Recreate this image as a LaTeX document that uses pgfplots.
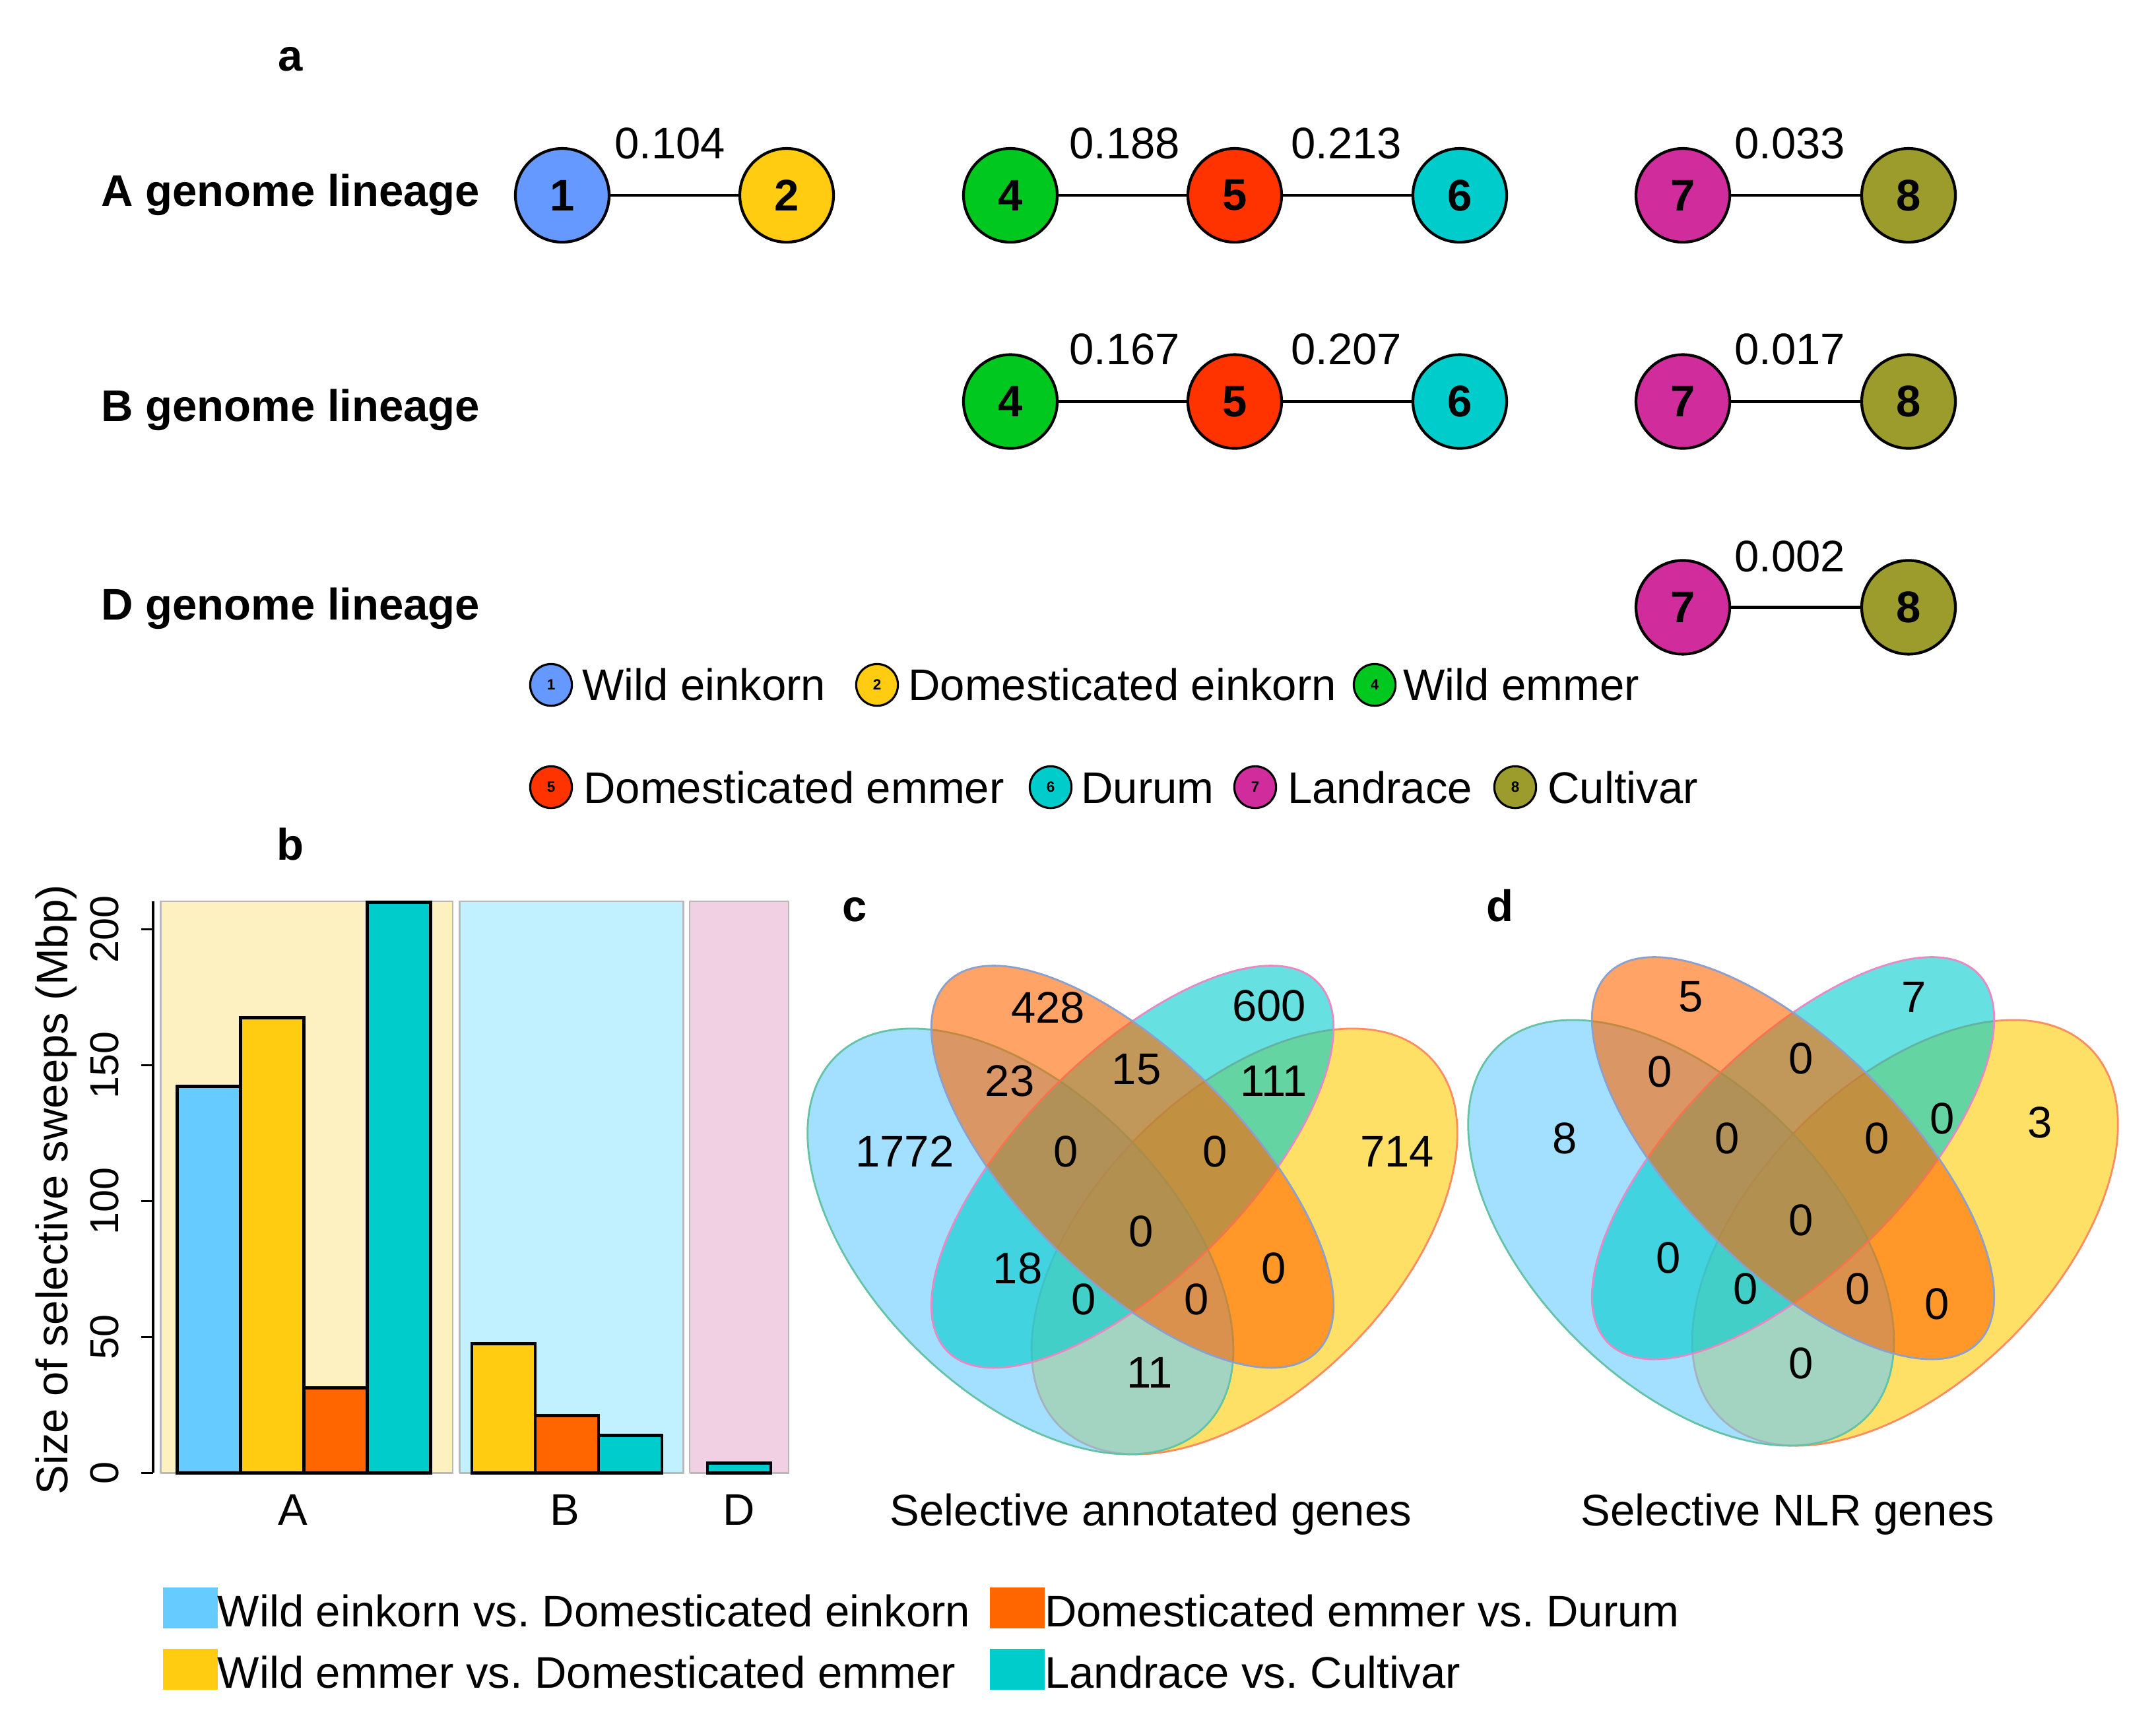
\documentclass[border=0pt]{standalone}
\usepackage{fontspec}
\setmainfont{Liberation Sans}
\usepackage{pgfplots}
\pgfplotsset{compat=1.18}

\definecolor{nc1}{HTML}{6699FF}
\definecolor{nc2}{HTML}{FFCC11}
\definecolor{nc4}{HTML}{00C81E}
\definecolor{nc5}{HTML}{FF3300}
\definecolor{nc6}{HTML}{00CCCC}
\definecolor{nc7}{HTML}{D02C9C}
\definecolor{nc8}{HTML}{9C9C2C}
\definecolor{bblue}{HTML}{66CCFF}
\definecolor{byel}{HTML}{FFCC11}
\definecolor{bora}{HTML}{FF6600}
\definecolor{bteal}{HTML}{00CCCC}
\definecolor{bgA}{HTML}{FDF0C1}
\definecolor{bgB}{HTML}{C1F0FF}
\definecolor{bgD}{HTML}{F0D0E2}
\definecolor{vblue}{HTML}{66CCFF}
\definecolor{vyel}{HTML}{FFCC00}
\definecolor{vora}{HTML}{FF6600}
\definecolor{vcyan}{HTML}{00CCCC}
\definecolor{eblue}{HTML}{66C2A5}
\definecolor{eyel}{HTML}{FC8D62}
\definecolor{eora}{HTML}{8DA0CB}
\definecolor{ecyan}{HTML}{E78AC3}

\newcommand{\fs}{\fontsize{9.54}{11}\selectfont}
\newcommand{\tfs}{\fontsize{8.7}{10}\selectfont}
\newcommand{\tinyfs}{\fontsize{3.2}{3.2}\selectfont}

\newcommand{\venn}[2]{%
\begin{scope}[shift={(#1,#2)}, scale=5.6575]
 \filldraw[fill=vyel, fill opacity=0.6, draw=eyel, line width=0.4pt, rotate around={45:(0.65,0.47)}] (0.65,0.47) ellipse (0.35 and 0.2);
 \filldraw[fill=vblue, fill opacity=0.6, draw=eblue, line width=0.4pt, rotate around={-45:(0.35,0.47)}] (0.35,0.47) ellipse (0.35 and 0.2);
 \filldraw[fill=vcyan, fill opacity=0.6, draw=ecyan, line width=0.4pt, rotate around={45:(0.5,0.57)}] (0.5,0.57) ellipse (0.35 and 0.15);
 \filldraw[fill=vora, fill opacity=0.6, draw=eora, line width=0.4pt, rotate around={-45:(0.5,0.57)}] (0.5,0.57) ellipse (0.35 and 0.15);
\end{scope}}

\pgfplotsset{
  legsq/.style={legend image code/.code={\fill[#1] (0cm,-0.12cm) rectangle (0.39cm,0.165cm);}},
  bignode/.style={only marks, mark=*, mark size=10.1pt, mark options={fill=#1, draw=black, line width=0.6pt}},
  smallnode/.style={only marks, mark=*, mark size=4.5pt, mark options={fill=#1, draw=black, line width=0.45pt}},
  edge/.style={black, line width=0.6pt},
  txt/.style={only marks, mark=none, nodes near coords, point meta=explicit symbolic,
    every node near coord/.style={anchor=center, inner sep=0pt, text=black, font=#1}},
}

\begin{document}
\frenchspacing
\fs
\begin{tikzpicture}[every node/.append style={inner sep=0pt}]
\useasboundingbox (0,0) rectangle (16.335cm,13.09cm);

\venn{5.75125cm}{1.0235cm}
\venn{10.75625cm}{1.0885cm}

% ---------------- panel b: bar chart ----------------
\begin{axis}[
  at={(1.1595cm,1.928cm)}, anchor=south west, scale only axis,
  width=4.8405cm, height=4.332cm,
  xmin=231.9, xmax=1200, ymin=0, ymax=210.3,
  axis lines*=left,
  x axis line style={draw=none},
  y axis line style={line width=0.5pt},
  clip=false,
  tick align=outside, major tick length=0.09cm,
  ytick={0,50,100,150,200},
  ytick style={black, line width=0.5pt},
  yticklabel style={rotate=90, anchor=south, inner sep=0pt, font=\tfs},
  yticklabel shift=0.16cm,
  xtick={444,856,1120}, xticklabels={A,B,D},
  xtick style={draw=none},
  xticklabel style={anchor=base, inner sep=0pt, font=\fs, yshift=-0.303cm},
  /pgf/number format/assume math mode=true,
  legend columns=2, transpose legend,
  legend cell align=left,
  legend style={at={(axis cs:247,-42.1)}, anchor=north west, draw=none, fill=none,
    inner sep=0pt, outer sep=0pt, row sep=0.155cm, column sep=0pt, font=\fs,
    nodes={inner sep=0pt, text height=0.24cm, text depth=0pt},
    /tikz/every even column/.append style={column sep=0.15cm}},
]
\addplot[fill=bgA, draw=gray!55, line width=0.4pt, forget plot] coordinates {(243.4,0) (243.4,210.3) (686,210.3) (686,0) (243.4,0)};
\addplot[fill=bgB, draw=gray!55, line width=0.4pt, forget plot] coordinates {(696.2,0) (696.2,210.3) (1035.5,210.3) (1035.5,0) (696.2,0)};
\addplot[fill=bgD, draw=gray!55, line width=0.4pt, forget plot] coordinates {(1045,0) (1045,210.3) (1195,210.3) (1195,0) (1045,0)};

\addplot[ybar, bar width=96, bar shift=0pt, fill=bblue, draw=black, line width=0.7pt, legsq=bblue] coordinates {(316.5,142.3)};
\addlegendentry{Wild einkorn vs. Domesticated einkorn}
\addplot[ybar, bar width=96, bar shift=0pt, fill=byel, draw=black, line width=0.7pt, legsq=byel] coordinates {(412.5,167.5) (763,47.5)};
\addlegendentry{Wild emmer vs. Domesticated emmer}
\addplot[ybar, bar width=96, bar shift=0pt, fill=bora, draw=black, line width=0.7pt, legsq=bora] coordinates {(508.5,31.3) (859,21.2)};
\addlegendentry{Domesticated emmer vs. Durum}
\addplot[ybar, bar width=96, bar shift=0pt, fill=bteal, draw=black, line width=0.7pt, legsq=bteal] coordinates {(604.5,210) (955,13.9) (1120,3.7)};
\addlegendentry{Landrace vs. Cultivar}

\node[rotate=90] at (axis cs:85,104.2) {Size of selective sweeps (Mbp)};
\end{axis}

% ---------------- canvas: panel a, labels, venn counts ----------------
\begin{axis}[
  at={(0,0)}, anchor=south west, scale only axis,
  width=16.335cm, height=13.09cm,
  xmin=0, xmax=3267, ymin=0, ymax=2618, y dir=reverse,
  hide axis, clip=false,
]
% edges
\addplot[edge] coordinates {(852,296) (1192,296)};
\addplot[edge] coordinates {(1531,296) (2212,296)};
\addplot[edge] coordinates {(2550,296) (2892,296)};
\addplot[edge] coordinates {(1531,608.5) (2212,608.5)};
\addplot[edge] coordinates {(2550,608.5) (2892,608.5)};
\addplot[edge] coordinates {(2550,920.4) (2892,920.4)};
% nodes
\addplot[bignode=nc1] coordinates {(852,296)};
\addplot[bignode=nc2] coordinates {(1192,296)};
\addplot[bignode=nc4] coordinates {(1531,296) (1531,608.5)};
\addplot[bignode=nc5] coordinates {(1871,296) (1871,608.5)};
\addplot[bignode=nc6] coordinates {(2212,296) (2212,608.5)};
\addplot[bignode=nc7] coordinates {(2550,296) (2550,608.5) (2550,920.4)};
\addplot[bignode=nc8] coordinates {(2892,296) (2892,608.5) (2892,920.4)};
% node digits
\addplot[txt=\bfseries] table[meta=t] {
x y t
852 296 1
1192 296 2
1531 296 4
1871 296 5
2212 296 6
2550 296 7
2892 296 8
1531 608.5 4
1871 608.5 5
2212 608.5 6
2550 608.5 7
2892 608.5 8
2550 920.4 7
2892 920.4 8
};
% edge weights
\node[anchor=base] at (axis cs:1015,240) {0.104};
\node[anchor=base] at (axis cs:1704,240) {0.188};
\node[anchor=base] at (axis cs:2040,240) {0.213};
\node[anchor=base] at (axis cs:2712,240) {0.033};
\node[anchor=base] at (axis cs:1704,552) {0.167};
\node[anchor=base] at (axis cs:2040,552) {0.207};
\node[anchor=base] at (axis cs:2712,552) {0.017};
\node[anchor=base] at (axis cs:2712,866) {0.002};
% row labels
\node[anchor=base west, font=\bfseries] at (axis cs:152,312) {A genome lineage};
\node[anchor=base west, font=\bfseries] at (axis cs:152,638) {B genome lineage};
\node[anchor=base west, font=\bfseries] at (axis cs:152,939) {D genome lineage};
% legend of panel a
\addplot[smallnode=nc1] coordinates {(835,1038)};
\addplot[smallnode=nc2] coordinates {(1329,1038)};
\addplot[smallnode=nc4] coordinates {(2083,1038)};
\addplot[smallnode=nc5] coordinates {(835,1193)};
\addplot[smallnode=nc6] coordinates {(1592,1193)};
\addplot[smallnode=nc7] coordinates {(1902,1193)};
\addplot[smallnode=nc8] coordinates {(2296,1193)};
\addplot[txt=\tinyfs\bfseries] table[meta=t] {
x y t
835 1038 1
1329 1038 2
2083 1038 4
835 1193 5
1592 1193 6
1902 1193 7
2296 1193 8
};
\node[anchor=base west] at (axis cs:881,1061) {Wild einkorn};
\node[anchor=base west] at (axis cs:1375,1061) {Domesticated einkorn};
\node[anchor=base west] at (axis cs:2125,1061) {Wild emmer};
\node[anchor=base west] at (axis cs:883,1217) {Domesticated emmer};
\node[anchor=base west] at (axis cs:1637,1217) {Durum};
\node[anchor=base west] at (axis cs:1950,1217) {Landrace};
\node[anchor=base west] at (axis cs:2344,1217) {Cultivar};
% panel letters
\node[anchor=base, font=\bfseries] at (axis cs:440,107) {a};
\node[anchor=base, font=\bfseries] at (axis cs:440,1303) {b};
\node[anchor=base, font=\bfseries] at (axis cs:1295,1396) {c};
\node[anchor=base, font=\bfseries] at (axis cs:2273,1396) {d};
% venn c counts
\addplot[txt=\fs] table[meta=t] {
x y t
1371 1745 1772
1588 1527 428
1923 1524 600
2117 1745 714
1530 1638 23
1722 1621 15
1930 1638 111
1615 1745 0
1841 1745 0
1729 1866 0
1542 1922 18
1642 1969 0
1813 1969 0
1930 1922 0
1742 2080 11
};
\node[anchor=base] at (axis cs:1744,2312) {Selective annotated genes};
% venn d counts
\addplot[txt=\fs] table[meta=t] {
x y t
2371 1725 8
2562 1511 5
2900 1511 7
3091 1701 3
2515 1624 0
2729 1604 0
2943 1695 0
2617 1725 0
2844 1725 0
2729 1849 0
2528 1906 0
2645 1953 0
2815 1953 0
2935 1976 0
2729 2066 0
};
\node[anchor=base] at (axis cs:2709,2312) {Selective NLR genes};
\end{axis}
\end{tikzpicture}
\end{document}
